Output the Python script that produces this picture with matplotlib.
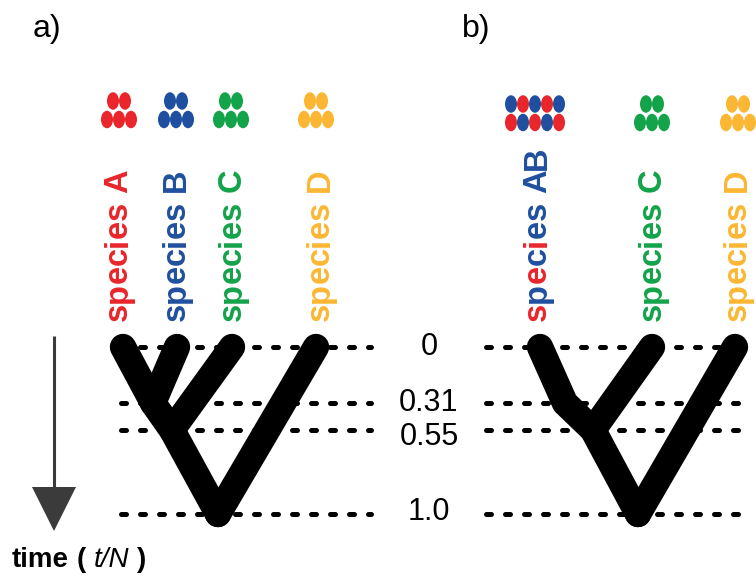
import matplotlib
matplotlib.use("Agg")
import matplotlib.pyplot as plt
from matplotlib.patches import Ellipse, Polygon
from matplotlib.font_manager import FontProperties

# ---- data ----
species_a = ["A", "B", "C", "D"]
samples_a = [5, 5, 5, 5]
species_b = ["AB", "C", "D"]
samples_b = [10, 5, 5]
split_times = [0, 0.31, 0.55, 1.0]
time_labels = ["0", "0.31", "0.55", "1.0"]

# tree topology: node -> split time, and lineages from tip down to root
nodes_a = {"A": 0, "B": 0, "C": 0, "D": 0, "AB": 0.31, "ABC": 0.55, "root": 1.0}
paths_a = [["A", "AB", "ABC", "root"], ["B", "AB"], ["C", "ABC"], ["D", "root"]]
nodes_b = {"AB": 0, "C": 0, "D": 0, "AB'": 0.31, "ABC": 0.55, "root": 1.0}
paths_b = [["AB", "AB'", "ABC", "root"], ["C", "ABC"], ["D", "root"]]

colors = {"A": "#e8262b", "B": "#1f4f9e", "C": "#13a34a", "D": "#fbb733"}

# ---- layout (pixels) ----
row_y = [347, 403, 430, 514]          # schematic vertical position of each split time
node_x_a = {"A": 123, "B": 177, "C": 232, "D": 316, "AB": 153, "ABC": 172, "root": 218}
node_x_b = {"AB": 540, "C": 652, "D": 735, "AB'": 565, "ABC": 593, "root": 638}
dot_x_a = [119, 176, 231, 316]
dot_x_b = [535, 652, 738]
label_x_a = [127, 185, 241, 329]
label_x_b = [546, 661, 746]

fig = plt.figure(figsize=(7.56, 5.79), dpi=100)
ax = fig.add_axes([0, 0, 1, 1])
ax.set_xlim(0, 756)
ax.set_ylim(579, 0)
ax.axis("off")
renderer = fig.canvas.get_renderer()

label_font = FontProperties(family="Liberation Sans", weight="bold", size=23.5)
num_font = FontProperties(family="Liberation Sans", size=22)


def ty(t):
    return row_y[split_times.index(t)]


def draw_tree(nodes, paths, node_x):
    for path in paths:
        ax.plot([node_x[n] for n in path], [ty(nodes[n]) for n in path], color="black",
                lw=19, solid_capstyle="round", solid_joinstyle="round", zorder=3)


def draw_dots(x0, y_top, n, cols):
    rows = [n // 2, n - n // 2]
    for r, k in enumerate(rows):
        for j in range(k):
            x = x0 + (j - (k - 1) / 2) * 12
            c = cols[(r + j + 1) % len(cols)]
            ax.add_patch(Ellipse((x, y_top + r * 18.5), 12, 17.5, color=c, lw=0))


def draw_label(x_base, y_start, parts):
    # rotated label written char by char so that each piece keeps its own colour
    text = "".join(s for s, _ in parts)
    i = 0
    for s, c in parts:
        for ch in s:
            if ch != " ":
                w_all = renderer.get_text_width_height_descent(text[:i + 1], label_font, ismath=False)[0]
                w_ch = renderer.get_text_width_height_descent(ch, label_font, ismath=False)[0]
                off = w_all - w_ch
                ax.text(x_base, y_start - off, ch, color=c, fontproperties=label_font,
                        rotation=90, rotation_mode="anchor", ha="left", va="baseline")
            i += 1


# panel a
draw_tree(nodes_a, paths_a, node_x_a)
for k, sp in enumerate(species_a):
    draw_dots(dot_x_a[k], 101, samples_a[k], [colors[sp]])
    draw_label(label_x_a[k], 321, [("species " + sp, colors[sp])])

# panel b
draw_tree(nodes_b, paths_b, node_x_b)
for k, sp in enumerate(species_b):
    if sp == "AB":
        draw_dots(dot_x_b[k], 104, samples_b[k], [colors["A"], colors["B"]])
        parts = [(ch, colors["A"] if i % 2 == 0 else colors["B"]) for i, ch in enumerate("specie")]
        parts += [("s AB", colors["B"])]
        draw_label(label_x_b[k], 321, parts)
    else:
        draw_dots(dot_x_b[k], 104, samples_b[k], [colors[sp]])
        draw_label(label_x_b[k], 321, [("species " + sp, colors[sp])])

# dashed time lines + labels
label_dy = [0, 0, 7, -2]
for k, t in enumerate(split_times):
    for x0, x1 in [(121, 371), (486, 739)]:
        ax.plot([x0, x1], [ty(t), ty(t)], color="black", lw=3.6, ls=(0, (1.0, 2.8)),
                dash_capstyle="round", zorder=1)
    ax.text(429, ty(t) + label_dy[k], time_labels[k], fontproperties=num_font,
            ha="center", va="center")

# time arrow
ax.plot([54, 54], [336, 490], color="#3b3b3b", lw=2.2, solid_capstyle="butt")
ax.add_patch(Polygon([(32, 487), (76, 487), (54, 531)], closed=True, color="#3b3b3b", lw=0))

# axis caption: time ( t/N )
cap_bold = FontProperties(family="Liberation Sans", weight="bold", size=20)
cap_ital = FontProperties(family="Liberation Sans", style="italic", size=20)
space = renderer.get_text_width_height_descent("a a", cap_bold, ismath=False)[0] - \
    renderer.get_text_width_height_descent("aa", cap_bold, ismath=False)[0]
x = 12
for s, fp in [("time", cap_bold), ("(", cap_bold), ("t/N", cap_ital), (")", cap_bold)]:
    ax.text(x, 567, s, fontproperties=fp, ha="left", va="baseline")
    x += renderer.get_text_width_height_descent(s, fp, ismath=False)[0] + space

# panel letters
ax.text(33, 37, "a)", fontsize=23, family="Liberation Sans", ha="left", va="baseline")
ax.text(462, 37, "b)", fontsize=23, family="Liberation Sans", ha="left", va="baseline")

fig.savefig("out.png", dpi=100)
